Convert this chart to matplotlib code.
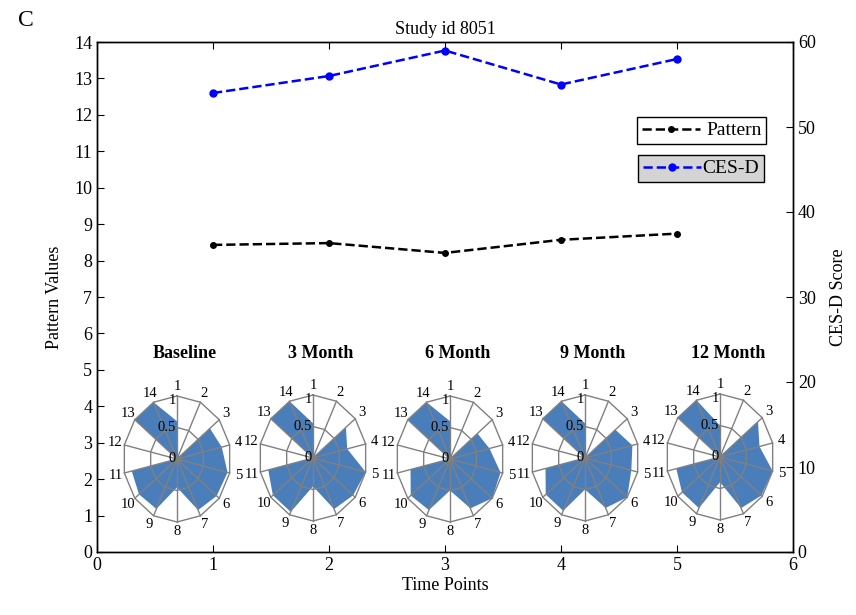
import numpy as np
import matplotlib
matplotlib.use('Agg')
import matplotlib.pyplot as plt

plt.rcParams['font.family'] = ['Liberation Serif', 'DejaVu Serif']

# ── data ──
time_points = [1, 2, 3, 4, 5]
pattern = [8.43, 8.48, 8.21, 8.57, 8.74]
cesd = [54, 56, 59, 55, 58]

visit_names = ['Baseline', '3 Month', '6 Month', '9 Month', '12 Month']
spokes = list(range(1, 15))
radar_baseline = [0.6, 0, 0.78, 0.85, 0.96, 0.94, 0.9, 0.45, 0.88, 0.9, 0.86, 0, 1.0, 1.0]
radar_3m = [0.55, 0, 0.78, 0.65, 1.0, 0.95, 0.9, 0.45, 0.95, 0.95, 0.85, 0, 1.0, 1.0]
radar_6m = [0.6, 0, 0.65, 0.75, 0.96, 1.0, 0.87, 0.5, 0.9, 0.93, 0.75, 0, 1.0, 1.0]
radar_9m = [0.55, 0, 0.72, 0.9, 0.88, 1.0, 0.88, 0.5, 0.93, 0.93, 0.75, 0, 1.0, 1.0]
radar_12m = [0.5, 0, 0.9, 0.75, 1.0, 0.98, 0.9, 0.4, 0.9, 0.9, 0.83, 0, 1.0, 1.0]
radars = [radar_baseline, radar_3m, radar_6m, radar_9m, radar_12m]

W, H = 856, 615
fig = plt.figure(figsize=(W/100, H/100), dpi=100)

# ── main axes ──
ax = fig.add_axes([97/W, 1-552/H, 696/W, 510/H])
ax2 = ax.twinx()

ax.plot(time_points, pattern, 'k--', lw=1.8, marker='.', ms=8, label='Pattern', zorder=3)
ax2.plot(time_points, cesd, '--', color='blue', lw=1.8, marker='o', ms=5,
         mfc='blue', mec='blue', label='CES-D', zorder=3)

ax.set_xlim(0, 6)
ax.set_ylim(0, 14)
ax2.set_ylim(0, 60)
ax.set_xticks(range(0, 7))
ax.set_yticks(range(0, 15))
ax2.set_yticks(range(0, 61, 10))
ax.tick_params(direction='in', top=True, labelsize=13, length=5)
ax2.tick_params(direction='in', labelsize=13, length=5)
for a in (ax, ax2):
    for s in a.spines.values():
        s.set_linewidth(1.0)

ax.set_xlabel('Time Points', fontsize=13, labelpad=2)
ax.set_ylabel('Pattern Values', fontsize=13, labelpad=8)
ax2.set_ylabel('CES-D Score', fontsize=13, labelpad=10)
ax.set_title('Study id 8051', fontsize=13, pad=6)
fig.text(18/W, 1-20/H, 'C', fontsize=17, va='center', ha='left')

leg1 = ax.legend(loc='upper left', bbox_to_anchor=(637/W, 1-117/H), bbox_transform=fig.transFigure,
                 borderaxespad=0, fancybox=False, edgecolor='black', framealpha=1,
                 fontsize=14, handlelength=3.0, handletextpad=0.3, borderpad=0.25)
leg1.get_frame().set_linewidth(1.0)
leg2 = ax2.legend(loc='upper left', bbox_to_anchor=(638/W, 1-155/H), bbox_transform=fig.transFigure,
                  borderaxespad=0, fancybox=False, edgecolor='black', framealpha=1,
                  facecolor='#d4d4d4', fontsize=14, handlelength=3.0, handletextpad=0.05, borderpad=0.25)
leg2.get_frame().set_linewidth(1.0)

# ── radar insets ──
centers = [(177, 459), (313, 458), (450, 459), (585, 458), (720, 457)]
rx, ry = 54, 63
ext = 1.3
theta = np.deg2rad(np.arange(14) * 360 / 14)
sx, sy = np.sin(theta), np.cos(theta)

for name, vals, (cx, cy) in zip(visit_names, radars, centers):
    pa = fig.add_axes([(cx - ext*rx)/W, 1-(cy + ext*ry)/H, 2*ext*rx/W, 2*ext*ry/H])
    pa.set_xlim(-ext, ext)
    pa.set_ylim(-ext, ext)
    pa.axis('off')
    v = np.array(vals)
    pa.fill(v*sx, v*sy, color='#4a7ebb', lw=0, zorder=1)
    for rr in (0.5, 1.0):
        pa.plot(np.append(rr*sx, rr*sx[0]), np.append(rr*sy, rr*sy[0]), color='#808080', lw=1.0, zorder=2)
    for k in range(14):
        pa.plot([0, sx[k]], [0, sy[k]], color='#808080', lw=1.0, zorder=2)
        pa.text(1.17*sx[k], 1.15*sy[k], str(spokes[k]), fontsize=10.5, ha='center', va='center')
    pa.plot(0, 0, 'o', color='#808080', ms=4, zorder=3)
    pa.text(-0.02, 0.0, '0', fontsize=10.5, ha='right', va='center')
    pa.text(-0.02, 0.5, '0.5', fontsize=10.5, ha='right', va='center')
    pa.text(-0.02, 0.93, '1', fontsize=10.5, ha='right', va='center')
    fig.text((cx + 8)/W, 1-353/H, name, fontsize=13, fontweight='bold', ha='center', va='center')

fig.savefig('out.png', dpi=100)
